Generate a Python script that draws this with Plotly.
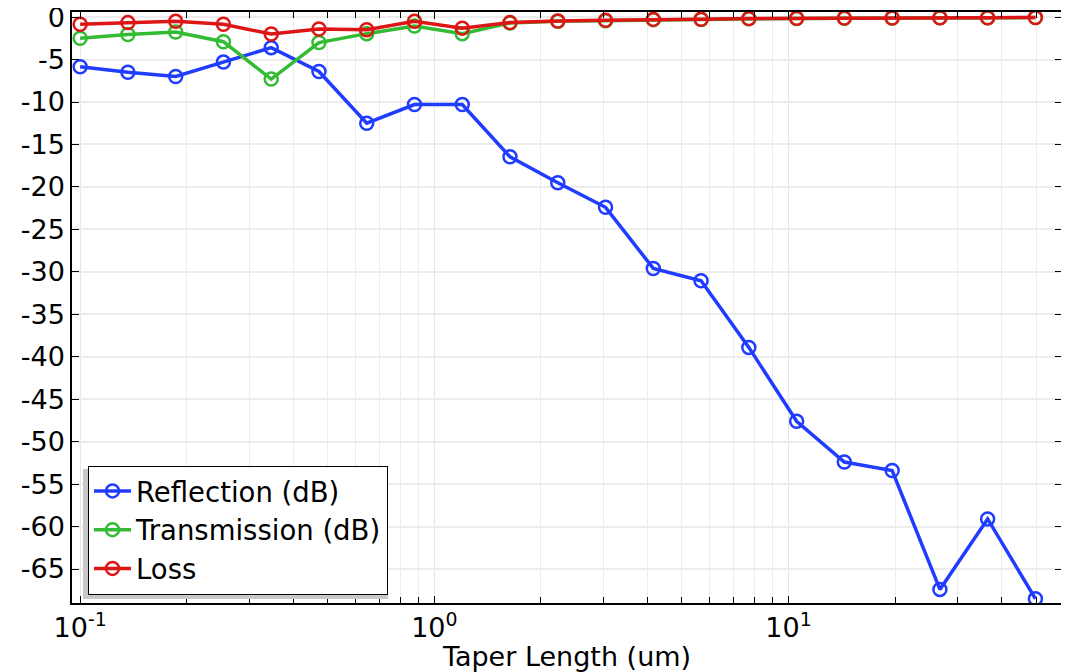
import plotly.graph_objects as go

# Data
taper_length = [0.1, 0.1364, 0.1861, 0.2538, 0.3463, 0.4723, 0.6443, 0.8789, 1.199,
                1.635, 2.231, 3.043, 4.151, 5.663, 7.724, 10.54, 14.37, 19.61,
                26.75, 36.48, 49.77]
reflection = [-5.85, -6.5, -7.0, -5.3, -3.6, -6.4, -12.5, -10.3, -10.3, -16.45, -19.5,
              -22.4, -29.6, -31.05, -38.9, -47.6, -52.4, -53.4, -67.4, -59.1, -68.5]
transmission = [-2.5, -2.05, -1.75, -2.9, -7.3, -3.0, -1.95, -1.05, -1.95, -0.7, -0.5,
                -0.42, -0.3, -0.28, -0.2, -0.16, -0.13, -0.11, -0.09, -0.08, -0.06]
loss = [-0.85, -0.65, -0.5, -0.85, -2.0, -1.4, -1.5, -0.5, -1.3, -0.65, -0.46,
        -0.38, -0.27, -0.25, -0.18, -0.14, -0.12, -0.1, -0.08, -0.07, -0.05]

series_names = ["Reflection (dB)", "Transmission (dB)", "Loss"]
series_colors = ["#1f3cff", "#33bb33", "#dd1515"]

y_tickvals = [0, -5, -10, -15, -20, -25, -30, -35, -40, -45, -50, -55, -60, -65]
y_ticktext = [str(v) for v in y_tickvals]
x_tickvals = [0.1, 1, 10]
x_ticktext = ["10<sup>-1</sup>", "10<sup>0</sup>", "10<sup>1</sup>"]
x_minorvals = [m * d for d in (0.1, 1, 10) for m in range(2, 10)]

FONT = "DejaVu Sans"

# page body has an 8px margin, so the figure is offset by 8px
OFF = 8
W, H = 1069 - OFF, 672 - OFF
ML, MR, MT, MB = 72 - OFF, 7, 12 - OFF, 69
PW = W - ML - MR
PH = H - MT - MB


def px_x(px):
    return (px - 72) / PW


def px_y(py):
    return (603 - py) / PH


fig = go.Figure()
for name, vals, col in zip(series_names, [reflection, transmission, loss], series_colors):
    fig.add_trace(go.Scatter(
        x=taper_length, y=vals, name=name, mode="lines+markers",
        line=dict(color=col, width=3.5),
        marker=dict(symbol="circle-open", size=13, color=col, line=dict(width=2.5, color=col)),
    ))

# legend drop shadow (down-left of the legend box)
fig.add_shape(type="rect", xref="paper", yref="paper",
              x0=px_x(83), x1=px_x(388),
              y0=px_y(599), y1=px_y(469),
              fillcolor="#c8c8c8", line=dict(width=0), layer="above")

fig.update_layout(
    width=W, height=H,
    margin=dict(l=ML, r=MR, t=MT, b=MB),
    paper_bgcolor="white", plot_bgcolor="white",
    font=dict(family=FONT, size=27, color="black"),
    showlegend=True,
    legend=dict(x=px_x(88), y=px_y(530), xanchor="left", yanchor="middle",
                bgcolor="white", bordercolor="black", borderwidth=1,
                font=dict(family=FONT, size=27.5, color="black"),
                tracegroupgap=0, itemwidth=37),
)
fig.update_xaxes(
    type="log", range=[-1.023, 1.772], automargin=False,
    tickmode="array", tickvals=x_tickvals, ticktext=x_ticktext,
    ticks="inside", ticklen=7, tickcolor="black", tickwidth=1,
    ticklabeloverflow="allow",
    showline=True, linecolor="black", linewidth=1.5, mirror="allticks",
    showgrid=True, gridcolor="#e6e6e6", gridwidth=1,
    minor=dict(tickmode="array", tickvals=x_minorvals, ticks="inside", ticklen=6,
               tickcolor="black", showgrid=True, gridcolor="#ececec", gridwidth=1),
    title=dict(text="Taper Length (um)", font=dict(family=FONT, size=27), standoff=0),
    zeroline=False,
)
fig.update_yaxes(
    range=[-69.0, 0.6], automargin=False,
    tickmode="array", tickvals=y_tickvals, ticktext=y_ticktext,
    ticks="inside", ticklen=7, tickcolor="black", tickwidth=1,
    ticklabeloverflow="allow",
    showline=True, linecolor="black", linewidth=1.5, mirror="allticks",
    showgrid=True, gridcolor="#ececec", gridwidth=1.5,
    zeroline=False,
)

fig.write_html("out.html")
